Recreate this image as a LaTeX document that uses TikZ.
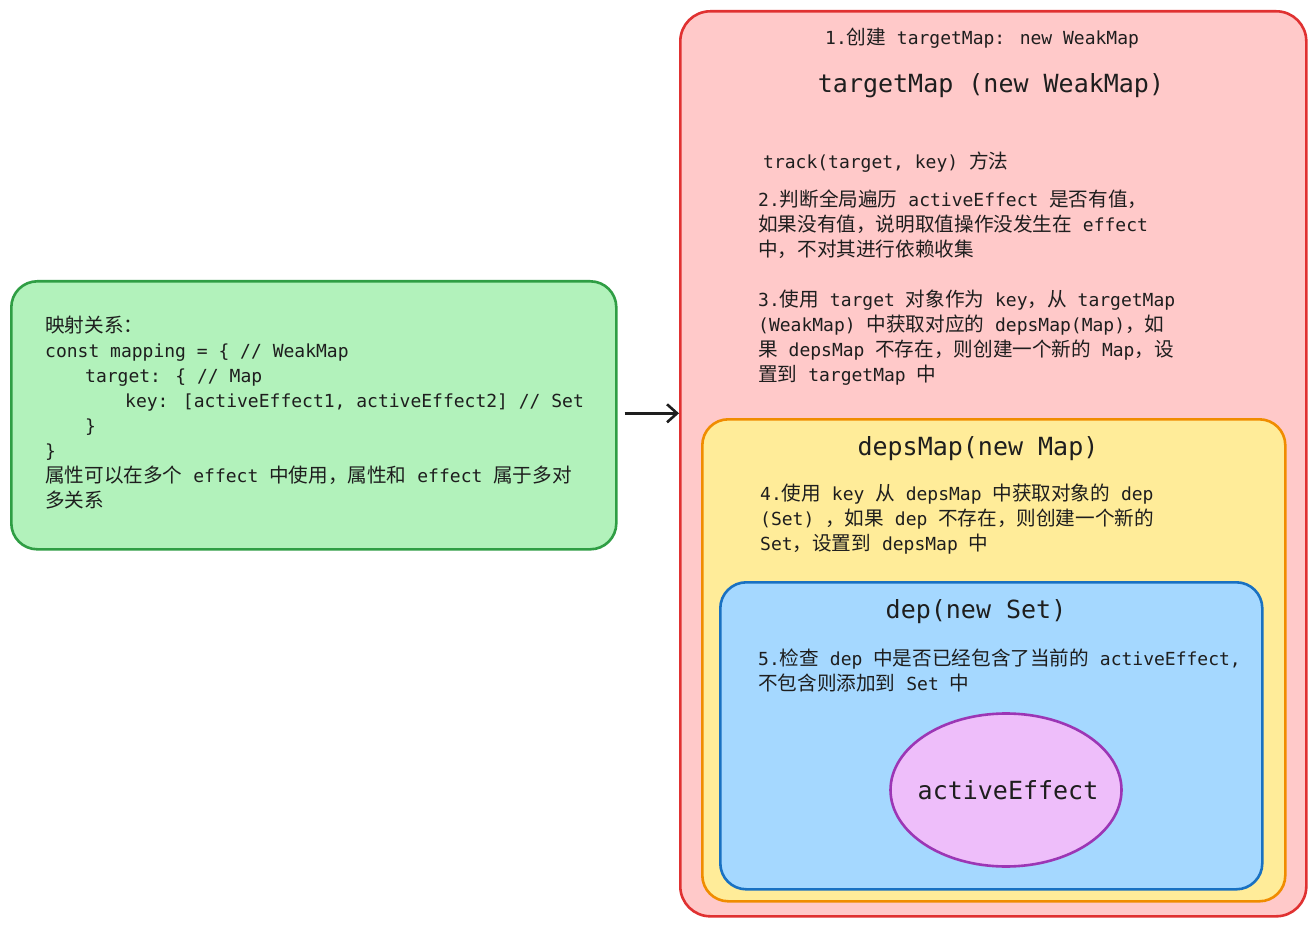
\documentclass[tikz,border=0pt]{standalone}
\usepackage{fontspec}
\setmainfont{DejaVu Sans Mono}
\newfontfamily\cjk[Scale=1.09]{Noto Sans CJK SC}
\newcommand\zh[1]{{\cjk #1}}
\usetikzlibrary{arrows.meta,shapes.geometric}
\definecolor{ink}{HTML}{1E1E1E}
\definecolor{gfill}{HTML}{B2F2BB}\definecolor{gline}{HTML}{2F9E44}
\definecolor{rfill}{HTML}{FFC9C9}\definecolor{rline}{HTML}{E03131}
\definecolor{yfill}{HTML}{FFEC99}\definecolor{yline}{HTML}{F08C00}
\definecolor{bfill}{HTML}{A5D8FF}\definecolor{bline}{HTML}{1971C2}
\definecolor{pfill}{HTML}{EEBEFA}\definecolor{pline}{HTML}{9C36B5}
\tikzset{
  box/.style={draw, line width=2.6pt, rounded corners=26pt, inner sep=0pt, anchor=north west},
  para/.style={inner sep=0pt, anchor=north west, align=left, text=ink, font=\fontsize{18}{25}\selectfont},
  line1/.style={inner sep=0pt, anchor=base west, text=ink, font=\fontsize{18}{25}\selectfont},
  title/.style={inner sep=0pt, anchor=base, text=ink, font=\fontsize{25}{30}\selectfont},
  arr/.style={draw=ink, line width=3pt, -{Straight Barb[length=10pt,width=18pt,line width=2.6pt]}}
}
\begin{document}
\begin{tikzpicture}[x=1pt,y=-1pt]
\useasboundingbox[fill=white] (0,0) rectangle (1315,925);
% boxes
\node[box, fill=gfill, draw=gline, minimum width=605pt, minimum height=268pt] (green) at (10,280) {};
\node[box, fill=rfill, draw=rline, rounded corners=30pt, minimum width=626pt, minimum height=905pt] (red) at (679,10) {};
\node[box, fill=yfill, draw=yline, minimum width=583pt, minimum height=482pt] (yellow) at (701,418) {};
\node[box, fill=bfill, draw=bline, minimum width=542pt, minimum height=307pt] (blue) at (719,581) {};
\node[draw=pline, fill=pfill, line width=2.6pt, ellipse, minimum width=231pt, minimum height=153pt, inner sep=0pt] (ae) at (1006,790) {};
\node[text=ink, inner sep=0pt, font=\fontsize{25}{30}\selectfont] (aet) at (1008,790) {activeEffect};
% green text
\node[para] (map) at (45,316) {\zh{映射关系：}\\
const mapping = \{ // WeakMap\\
\hspace*{40pt}target: \{ // Map\\
\hspace*{80pt}key: [activeEffect1, activeEffect2] // Set\\
\hspace*{40pt}\}\\
\}\\
\zh{属性可以在多个} effect \zh{中使用，属性和} effect \zh{属于多对}\\
\zh{多关系}};
% red texts
\node[line1] (t1) at (825,45) {1.\zh{创建} targetMap: new WeakMap};
\node[title] (t2) at (991,93) {targetMap (new WeakMap)};
\node[line1] (t3) at (763,169) {track(target, key) \zh{方法}};
\node[para] (p23) at (758,190) {2.\zh{判断全局遍历} activeEffect \zh{是否有值，}\\
\zh{如果没有值，说明取值操作没发生在} effect\\
\zh{中，不对其进行依赖收集}\\
\mbox{}\\
3.\zh{使用} target \zh{对象作为} key\zh{，从} targetMap\\
(WeakMap) \zh{中获取对应的} depsMap(Map)\zh{，如}\\
\zh{果} depsMap \zh{不存在，则创建一个新的} Map\zh{，设}\\
\zh{置到} targetMap \zh{中}};
% yellow texts
\node[title] (d1) at (978,455) {depsMap(new Map)};
\node[para] (p4) at (760,484) {4.\zh{使用} key \zh{从} depsMap \zh{中获取对象的} dep\\
(Set) \zh{，如果} dep \zh{不存在，则创建一个新的}\\
Set\zh{，设置到} depsMap \zh{中}};
% blue texts
\node[title] (s1) at (976,618) {dep(new Set)};
\node[para] (p5) at (758,649) {5.\zh{检查} dep \zh{中是否已经包含了当前的} activeEffect,\\
\zh{不包含则添加到} Set \zh{中}};
% arrow
\draw[arr] ([xshift=7pt,yshift=2pt]green.east) -- ([yshift=2pt]green.east -| red.west);
\end{tikzpicture}
\end{document}
